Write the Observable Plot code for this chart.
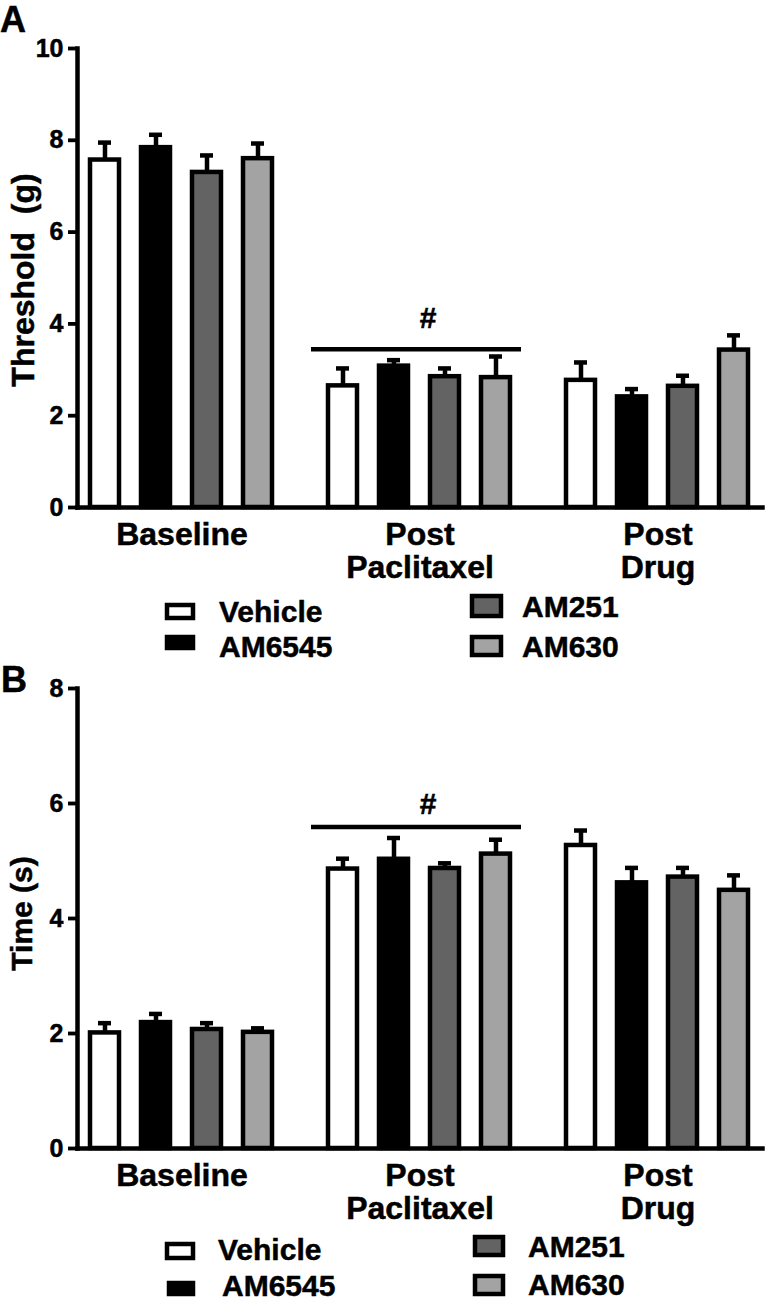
<!DOCTYPE html>
<html><head><meta charset="utf-8">
<script src="https://cdn.jsdelivr.net/npm/d3@7"></script>
<script src="https://cdn.jsdelivr.net/npm/@observablehq/plot@0.6"></script>
<style>
body{margin:0;background:#fff;}
#root{position:relative;width:773px;height:1303px;overflow:hidden;background:#fff}
#root > svg{position:absolute;left:0;}
#root svg text{stroke:#000;stroke-width:0.5px;}
</style></head><body><div id="root"></div>
<script>
// ---- data ----
const groups = ["Baseline", "Post\nPaclitaxel", "Post\nDrug"];
const series = ["Vehicle", "AM6545", "AM251", "AM630"];
const seriesColors = ["#ffffff", "#000000", "#636363", "#a3a3a3"];
// Panel A: Threshold (g), mean and SEM per group (rows) and series (columns)
const thresholdMean = [[7.57, 7.84, 7.30, 7.60], [2.65, 3.08, 2.85, 2.83], [2.77, 2.41, 2.64, 3.43]];
const thresholdSem  = [[0.38, 0.28, 0.37, 0.33], [0.38, 0.13, 0.18, 0.46], [0.39, 0.17, 0.23, 0.32]];
const thresholdTicks = [0, 2, 4, 6, 8, 10];
// Panel B: Time (s)
const timeMean = [[2.01, 2.19, 2.07, 2.02], [4.86, 5.03, 4.87, 5.12], [5.27, 4.62, 4.72, 4.49]];
const timeSem  = [[0.17, 0.15, 0.11, 0.07], [0.18, 0.37, 0.09, 0.25], [0.26, 0.26, 0.16, 0.26]];
const timeTicks = [0, 2, 4, 6, 8];
// significance bracket
const sigGroup = "Post\nPaclitaxel";
const sigLabel = "#";
const sigThreshold = 3.45;
const sigTime = 5.59;

const FONT = "'Liberation Sans', Arial, Helvetica, sans-serif";

function panel(o) {
  const rows = [];
  groups.forEach((g, i) => series.forEach((s, j) =>
    rows.push({group: g, series: s, mean: o.mean[i][j], top: o.mean[i][j] + o.sem[i][j]})));
  const sig = [{group: sigGroup, y: o.sig}];
  return Plot.plot({
    width: 773, height: o.height,
    marginTop: o.marginTop, marginBottom: o.marginBottom, marginLeft: 77, marginRight: 4,
    style: {fontFamily: FONT, fontWeight: "bold", color: "#000", background: "transparent", overflow: "visible"},
    fx: {domain: groups, paddingInner: 0.121, paddingOuter: 0.0084, align: 0, label: null},
    x: {domain: series, paddingInner: 0.423, paddingOuter: 0.23, axis: null},
    y: {domain: [0, o.yMax], label: null},
    color: {domain: series, range: seriesColors},
    marks: [
      Plot.axisY({ticks: o.ticks, tickSize: 9, tickPadding: 5, strokeWidth: 3.8, fontSize: 25, fontWeight: "bold", label: null}),
      Plot.axisFx({anchor: "bottom", tickSize: 0, tickPadding: 14, fontSize: 32, fontWeight: "bold", lineHeight: 1.04, label: null}),
      Plot.text([o.label], {text: d => d, frameAnchor: "left", textAnchor: "middle", lineAnchor: "middle",
        rotate: -90, dx: o.labelDx, dy: o.labelDy, fontSize: o.labelSize, fontWeight: "bold", facet: "super"}),
      Plot.ruleX(rows, {fx: "group", x: "series", y1: "mean", y2: "top", stroke: "#000", strokeWidth: 4.5}),
      Plot.tickY(rows, {fx: "group", x: "series", y: "top", stroke: "#000", strokeWidth: 4.5, insetLeft: 8, insetRight: 8}),
      Plot.barY(rows, {fx: "group", x: "series", y: "mean", fill: "series", stroke: "#000", strokeWidth: 4.5}),
      Plot.ruleY(sig, {fx: "group", y: "y", stroke: "#000", strokeWidth: 4.5, insetLeft: -4, insetRight: 3}),
      Plot.text(sig, {fx: "group", y: "y", text: () => sigLabel, fontSize: 30, fontWeight: "bold",
        lineAnchor: "bottom", dx: 8, dy: o.hashDy}),
      Plot.frame({anchor: "left", facet: "super", stroke: "#000", strokeWidth: 4.5, strokeLinecap: "square"}),
      Plot.frame({anchor: "bottom", facet: "super", stroke: "#000", strokeWidth: 4.5, strokeLinecap: "square"})
    ]
  });
}

const root = document.getElementById("root");
const svgA = panel({mean: thresholdMean, sem: thresholdSem, ticks: thresholdTicks, yMax: 10,
  label: "Threshold  (g)", labelSize: 32, labelDx: -54, labelDy: 2,
  height: 592, marginTop: 48, marginBottom: 85, sig: sigThreshold, hashDy: -21});
svgA.style.top = "0px";
root.appendChild(svgA);

const svgB = panel({mean: timeMean, sem: timeSem, ticks: timeTicks, yMax: 8,
  label: "Time (s)", labelSize: 30, labelDx: -55, labelDy: -5,
  height: 573, marginTop: 28, marginBottom: 85, sig: sigTime, hashDy: -13});
svgB.style.top = "660px";
root.appendChild(svgB);

// ---- panel letters and legends ----
const ov = d3.select(root).append("svg").attr("width", 773).attr("height", 1303)
  .style("position", "absolute").style("top", "0px").style("pointer-events", "none")
  .attr("font-family", FONT).attr("font-weight", "bold");
ov.append("text").attr("x", 0).attr("y", 32).attr("font-size", 36).text("A");
ov.append("text").attr("x", 1).attr("y", 692).attr("font-size", 36).text("B");

function legend(items) {
  items.forEach(it => {
    const i = series.indexOf(it.name);
    ov.append("rect").attr("x", it.sx + 2).attr("y", it.sy + 2).attr("width", it.sw - 4).attr("height", it.sh - 4)
      .attr("fill", seriesColors[i]).attr("stroke", "#000").attr("stroke-width", 4.5);
    ov.append("text").attr("x", it.tx).attr("y", it.ty).attr("font-size", 30).text(it.name);
  });
}
legend([
  {name: "Vehicle", sx: 165, sy: 603, sw: 30, sh: 17, tx: 219, ty: 622},
  {name: "AM6545", sx: 165, sy: 635, sw: 30, sh: 15, tx: 219, ty: 657},
  {name: "AM251", sx: 470, sy: 594, sw: 33, sh: 24, tx: 522, ty: 617},
  {name: "AM630", sx: 470, sy: 635, sw: 33, sh: 22, tx: 522, ty: 657}
]);
legend([
  {name: "Vehicle", sx: 165, sy: 1242, sw: 30, sh: 18, tx: 218, ty: 1260},
  {name: "AM6545", sx: 167, sy: 1281, sw: 28, sh: 15, tx: 222, ty: 1296},
  {name: "AM251", sx: 473, sy: 1235, sw: 32, sh: 22, tx: 528, ty: 1257},
  {name: "AM630", sx: 473, sy: 1274, sw: 32, sh: 22, tx: 528, ty: 1295}
]);
</script></body></html>
